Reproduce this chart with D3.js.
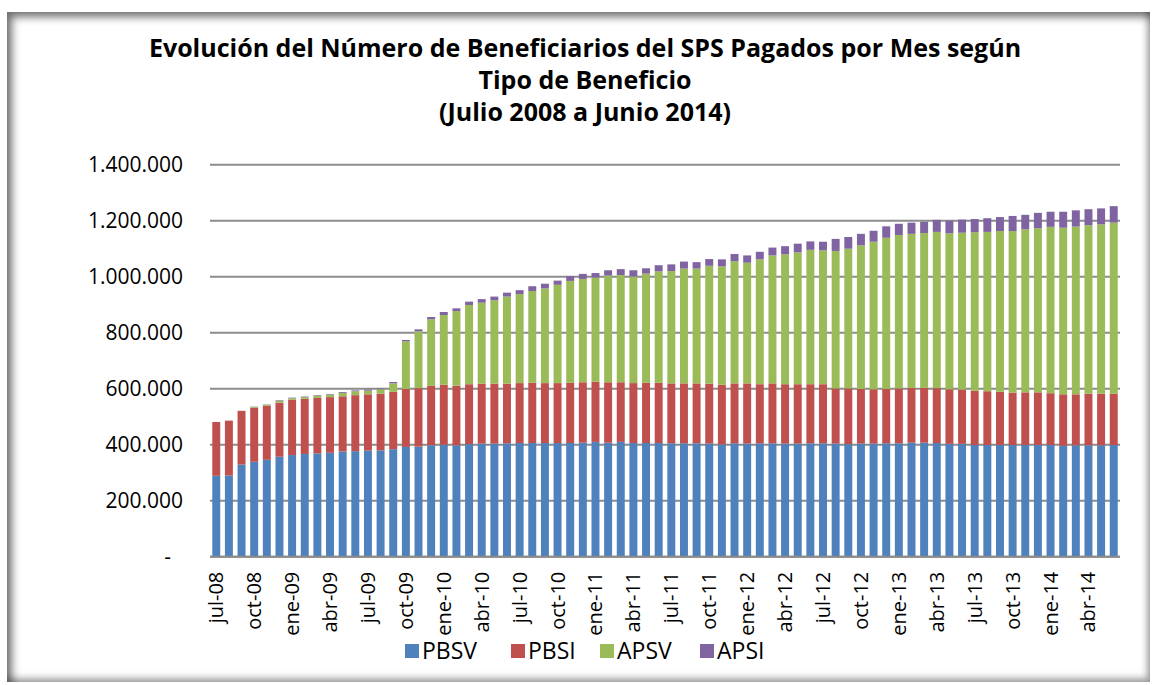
<!DOCTYPE html>
<html lang="es">
<head>
<meta charset="utf-8">
<title>Beneficiarios SPS</title>
<script src="https://d3js.org/d3.v7.min.js"></script>
<style>
  body { margin: 0; background: #fff; }
  * { font-family: 'Open Sans', sans-serif; }
  #frame {
    position: absolute; left: 7px; top: 12px; width: 1143px; height: 670px;
    box-shadow: inset 5px 5px 9px rgba(0,0,0,0.55), inset -3px -4px 7px rgba(0,0,0,0.35);
  }
  svg { position: absolute; left: 0; top: 0; }
</style>
</head>
<body>
<div id="frame"></div>
<script>
// months jul-08 .. jun-14
var mesesCortos = ["ene","feb","mar","abr","may","jun","jul","ago","sep","oct","nov","dic"];
var meses = [];
for (var i = 0; i < 72; i++) {
  var m = (6 + i) % 12, a = 8 + Math.floor((6 + i) / 12);
  meses.push(mesesCortos[m] + "-" + (a < 10 ? "0" + a : a));
}

// values in thousands
var pbsv = [289,290,329,339,346,357,363,367,369,371,376,377,379,380,384,392,393,398,
            400,398,402,404,404,405,406,406,406,406,406,407,410,407,410,406,406,406,
            405,405,405,404,401,405,404,405,405,404,404,405,405,404,402,404,404,405,
            405,407,407,406,403,403,399,399,399,399,399,399,399,396,398,398,398,399];
var pbsi = [192,196,192,193,193,193,198,197,198,199,197,200,201,202,205,207,209,212,
            214,213,214,214,214,213,214,215,214,214,215,216,215,216,213,214,215,215,
            214,214,214,214,213,214,215,211,214,212,212,211,211,197,199,195,194,194,
            196,196,196,196,195,194,194,192,190,187,188,188,185,184,182,184,184,183];
var apsv = [0,0,0,3,4,7,5,6,8,9,12,14,13,16,30,170,203,238,
            249,266,283,289,298,311,318,328,338,351,364,369,372,381,383,381,390,398,
            401,410,410,421,423,436,431,446,457,464,471,480,478,491,499,513,527,540,
            548,550,553,558,557,560,566,569,574,577,582,586,594,595,599,602,605,611];
var apsi = [0,0,0,1,1,2,2,2,2,2,3,3,4,3,5,5,7,8,
            11,10,12,13,13,14,14,17,17,15,17,18,16,19,21,22,19,22,
            24,25,23,24,25,26,26,27,28,29,31,30,31,43,42,41,39,41,
            40,40,40,43,45,47,47,49,50,54,52,55,54,57,58,57,57,59];

var series = ["PBSV","PBSI","APSV","APSI"];
var colores = ["#4F81BD","#C0504D","#9BBB59","#8064A2"];
var yTicks = [0,200000,400000,600000,800000,1000000,1200000,1400000];

var W = 1152, H = 685;
var pLeft = 210, pRight = 1120, pTop = 164.7, pBottom = 556.7;

var tabla = meses.map(function(m, i) {
  return {mes: m, PBSV: pbsv[i]*1000, PBSI: pbsi[i]*1000, APSV: apsv[i]*1000, APSI: apsi[i]*1000};
});
var apilado = d3.stack().keys(series)(tabla);

var x = d3.scaleBand().domain(meses).range([pLeft, pRight]).paddingInner(0.37).paddingOuter(0.18);
var y = d3.scaleLinear().domain([0, 1400000]).range([pBottom, pTop]);

var svg = d3.select("body").append("svg").attr("width", W).attr("height", H);

// title
var titulo = ["Evolución del Número de Beneficiarios del SPS Pagados por Mes según",
              "Tipo de Beneficio", "(Julio 2008 a Junio 2014)"];
svg.selectAll("text.titulo").data(titulo).enter().append("text")
  .attr("class", "titulo")
  .attr("x", 585).attr("y", function(d, i) { return 57 + i * 32; })
  .attr("text-anchor", "middle")
  .attr("font-size", "25px").attr("font-weight", "bold").attr("fill", "#000")
  .text(function(d) { return d; });

// gridlines
svg.append("g").selectAll("line").data(yTicks).enter().append("line")
  .attr("x1", pLeft).attr("x2", pRight)
  .attr("y1", function(d) { return y(d); }).attr("y2", function(d) { return y(d); })
  .attr("stroke", "#8c8c8c").attr("stroke-width", 2);

// y labels
var fmt = function(d) { return d === 0 ? "-" : d3.format(",")(d).replace(/,/g, "."); };
svg.append("g").selectAll("text").data(yTicks).enter().append("text")
  .attr("x", function(d) { return d === 0 ? 171 : 183; })
  .attr("y", function(d) { return y(d); })
  .attr("dy", "0.35em").attr("text-anchor", "end")
  .attr("font-size", "21px").attr("fill", "#000")
  .text(fmt);

// bars
svg.append("g").selectAll("g").data(apilado).enter().append("g")
  .attr("fill", function(d, i) { return colores[i]; })
  .selectAll("rect").data(function(d) { return d; }).enter().append("rect")
  .attr("x", function(d) { return x(d.data.mes); })
  .attr("width", x.bandwidth())
  .attr("y", function(d) { return y(d[1]); })
  .attr("height", function(d) { return y(d[0]) - y(d[1]); });

// x axis line
svg.append("line").attr("x1", pLeft).attr("x2", pRight)
  .attr("y1", pBottom).attr("y2", pBottom)
  .attr("stroke", "#8c8c8c").attr("stroke-width", 2);

// x labels every 3 months
svg.append("g").selectAll("text")
  .data(meses.filter(function(d, i) { return i % 3 === 0; })).enter().append("text")
  .attr("transform", function(d) {
    return "translate(" + (x(d) + x.bandwidth() / 2) + "," + (pBottom + 15) + ") rotate(-90)";
  })
  .attr("dy", "0.35em").attr("text-anchor", "end")
  .attr("font-size", "20px").attr("fill", "#000")
  .text(function(d) { return d; });

// legend
var legX = [405, 511, 600, 700];
var leg = svg.append("g").selectAll("g").data(series).enter().append("g")
  .attr("transform", function(d, i) { return "translate(" + legX[i] + ",651)"; });
leg.append("rect").attr("x", 0).attr("y", -7).attr("width", 14).attr("height", 14)
  .attr("fill", function(d, i) { return colores[i]; });
leg.append("text").attr("x", 17).attr("dy", "0.35em")
  .attr("font-size", "23px").attr("fill", "#000")
  .text(function(d) { return d; });
</script>
</body>
</html>
